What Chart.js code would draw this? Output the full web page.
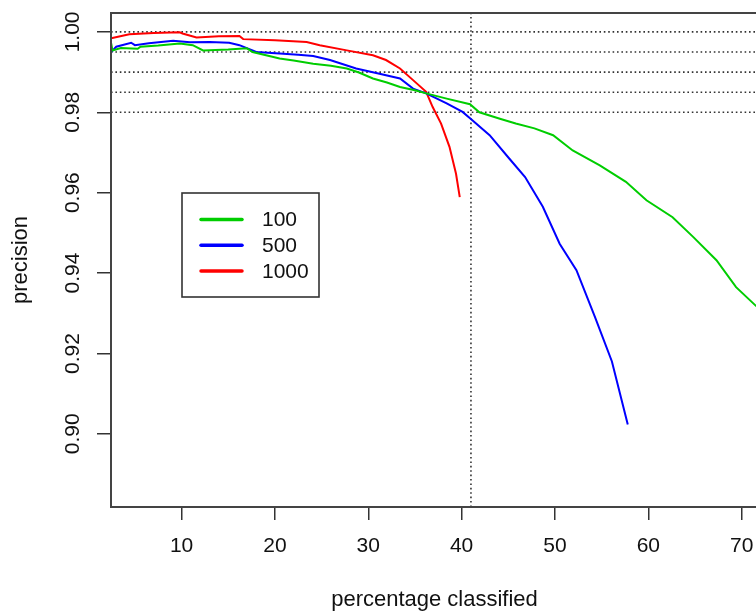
<!DOCTYPE html>
<html>
<head>
<meta charset="utf-8">
<script src="https://cdn.jsdelivr.net/npm/chart.js@4/dist/chart.umd.min.js"></script>
<style>
  html, body { margin: 0; padding: 0; background: #fff; overflow: hidden; }
  #wrap { width: 760px; height: 613px; }
</style>
</head>
<body>
<div id="wrap"><canvas id="chart" width="760" height="613"></canvas></div>
<script>
// curves
const x100 = [2.46, 2.6, 3.5, 5.3, 5.6, 7.5, 9.8, 11.2, 12.3, 15.0, 17.0, 17.6, 20.5, 22.0, 24.1, 26.0, 27.7, 29.0, 30.5, 32.0, 33.4, 35.0, 36.2, 38.4, 40.9, 41.9, 44.1, 45.8, 47.8, 49.8, 51.9, 54.8, 57.6, 59.8, 62.6, 64.8, 67.3, 69.4, 71.5, 72.5];
const y100 = [0.9971, 0.9954, 0.9960, 0.9958, 0.9963, 0.9966, 0.9971, 0.9967, 0.9954, 0.9956, 0.9959, 0.9950, 0.9934, 0.9929, 0.9921, 0.9916, 0.9909, 0.9899, 0.9884, 0.9874, 0.9863, 0.9855, 0.9847, 0.9834, 0.9820, 0.9800, 0.9784, 0.9772, 0.9760, 0.9743, 0.9705, 0.9668, 0.9627, 0.9581, 0.9539, 0.9490, 0.9432, 0.9365, 0.9319, 0.9300];

const x500 = [2.46, 3.0, 4.6, 5.0, 6.5, 9.1, 10.9, 13.0, 15.1, 16.2, 18.0, 20.5, 22.5, 24.1, 25.9, 28.7, 31.2, 33.4, 34.8, 36.2, 38.4, 40.1, 40.9, 43.0, 45.1, 46.8, 48.7, 50.5, 52.3, 54.3, 56.1, 57.8];
const y500 = [0.9950, 0.9963, 0.9973, 0.9967, 0.9972, 0.9978, 0.9974, 0.9975, 0.9973, 0.9967, 0.9950, 0.9946, 0.9943, 0.9940, 0.9930, 0.9909, 0.9896, 0.9884, 0.9859, 0.9847, 0.9822, 0.9801, 0.9785, 0.9743, 0.9685, 0.9639, 0.9565, 0.9473, 0.9407, 0.9290, 0.9180, 0.9023];

const x1000 = [2.46, 4.4, 7.0, 9.8, 10.1, 11.6, 14.0, 16.2, 16.6, 20.0, 23.4, 24.8, 27.7, 30.5, 31.9, 33.4, 34.8, 36.2, 36.9, 37.8, 38.7, 39.4, 39.8];
const y1000 = [0.9984, 0.9994, 0.9997, 0.9999, 0.9996, 0.9986, 0.9989, 0.9990, 0.9982, 0.9979, 0.9975, 0.9967, 0.9954, 0.9942, 0.9930, 0.9909, 0.9880, 0.9851, 0.9813, 0.9772, 0.9714, 0.9647, 0.9589];

const seriesNames = ["100", "500", "1000"];
const seriesColors = ["#00cd00", "#0000ff", "#ff0000"];

const hLines = [1.00, 0.995, 0.99, 0.985, 0.98];
const vLine = 41;

const xTicks = [10, 20, 30, 40, 50, 60, 70];
const yTicks = [0.90, 0.92, 0.94, 0.96, 0.98, 1.00];

const xMin = 2.44, xMax = 71.75;
const yMin = 0.8818, yMax = 1.0047;

const FONT = "'Liberation Sans', Arial, sans-serif";

function zip(xs, ys) {
  return xs.map((x, i) => ({ x: x, y: ys[i] }));
}

const curves = [[x100, y100], [x500, y500], [x1000, y1000]].map((c, i) => ({
  label: seriesNames[i],
  data: zip(c[0], c[1]),
  borderColor: seriesColors[i],
  borderWidth: 2,
  pointRadius: 0,
  tension: 0,
  fill: false
}));

const dotted = {
  borderColor: "#333",
  borderWidth: 1.6,
  borderDash: [1.6, 2.8],
  pointRadius: 0,
  fill: false
};

const refSets = hLines.map(h => Object.assign({ label: "h" + h, data: [{ x: xMin, y: h }, { x: xMax + 5, y: h }] }, dotted));
refSets.push(Object.assign({ label: "v", data: [{ x: vLine, y: yMin }, { x: vLine, y: yMax }] }, dotted));

// box round the plot, y labels turned like R, legend box
const rPlot = {
  id: "rPlot",
  afterDraw(chart) {
    const ctx = chart.ctx;
    const a = chart.chartArea;
    ctx.save();
    ctx.strokeStyle = "#444";
    ctx.lineWidth = 2;
    ctx.strokeRect(a.left, a.top, a.right - a.left, a.bottom - a.top);

    const ys = chart.scales.y;
    ctx.fillStyle = "#111";
    ctx.font = "21px " + FONT;
    ctx.textAlign = "center";
    ctx.textBaseline = "middle";
    yTicks.forEach(v => {
      ctx.save();
      ctx.translate(73, ys.getPixelForValue(v));
      ctx.rotate(-Math.PI / 2);
      ctx.fillText(v.toFixed(2), 0, 0);
      ctx.restore();
    });

    // legend
    const bx = 182, by = 193, bw = 137, bh = 104;
    ctx.fillStyle = "#fff";
    ctx.fillRect(bx, by, bw, bh);
    ctx.strokeStyle = "#333";
    ctx.lineWidth = 1.6;
    ctx.strokeRect(bx, by, bw, bh);
    ctx.textAlign = "left";
    curves.forEach((d, i) => {
      const ly = 219.5 + i * 25.7;
      ctx.strokeStyle = d.borderColor;
      ctx.lineWidth = 3.5;
      ctx.lineCap = "round";
      ctx.beginPath();
      ctx.moveTo(201, ly);
      ctx.lineTo(242, ly);
      ctx.stroke();
      ctx.fillStyle = "#111";
      ctx.fillText(d.label, 262, ly + 1);
    });
    ctx.restore();
  }
};

new Chart(document.getElementById("chart"), {
  type: "line",
  data: { datasets: curves.concat(refSets) },
  options: {
    responsive: false,
    animation: false,
    events: [],
    layout: { padding: { top: 13, left: 0, right: 2, bottom: 0 } },
    plugins: { legend: { display: false }, tooltip: { enabled: false } },
    scales: {
      x: {
        type: "linear",
        min: xMin,
        max: xMax,
        afterBuildTicks: s => { s.ticks = xTicks.map(v => ({ value: v })); },
        afterFit: s => { s.height = 106; s.paddingLeft = 0; s.paddingRight = 0; },
        grid: { drawOnChartArea: false, drawTicks: true, tickLength: 13, color: "#333", lineWidth: 1.5 },
        border: { display: false },
        ticks: { color: "#111", font: { family: FONT, size: 21 }, padding: 14, maxRotation: 0 },
        title: { display: true, text: "percentage classified", color: "#111", font: { family: FONT, size: 22 }, padding: { top: 0, bottom: 0 } }
      },
      y: {
        type: "linear",
        min: yMin,
        max: yMax,
        afterBuildTicks: s => { s.ticks = yTicks.map(v => ({ value: v })); },
        afterFit: s => { s.width = 111; s.paddingTop = 0; s.paddingBottom = 0; },
        grid: { drawOnChartArea: false, drawTicks: true, tickLength: 14, color: "#333", lineWidth: 1.5 },
        border: { display: false },
        ticks: { display: false },
        title: { display: true, text: "precision", color: "#111", font: { family: FONT, size: 22 }, padding: { top: 8, bottom: 0 } }
      }
    }
  },
  plugins: [rPlot]
});
</script>
</body>
</html>
